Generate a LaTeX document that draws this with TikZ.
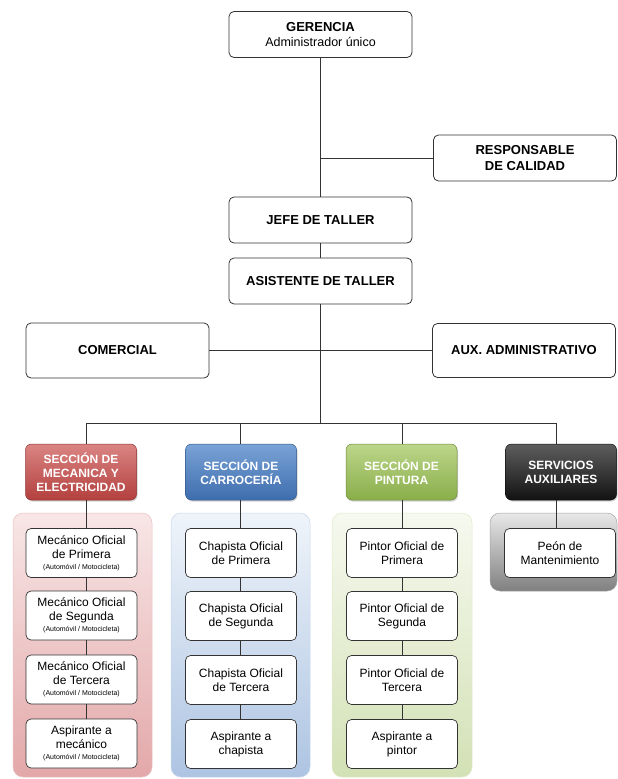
\documentclass[tikz,border=0pt]{standalone}
\usepackage{fontspec}
\setmainfont{Liberation Sans}
\usetikzlibrary{shadows}
\definecolor{lineC}{HTML}{333333}
\definecolor{redT}{HTML}{DA8583}
\definecolor{redB}{HTML}{B3403E}
\definecolor{bluT}{HTML}{7AA3D6}
\definecolor{bluB}{HTML}{3E6DAE}
\definecolor{grnT}{HTML}{BCD68A}
\definecolor{grnB}{HTML}{8AAE4A}
\definecolor{blkT}{HTML}{5E5E5E}
\definecolor{blkB}{HTML}{121212}
\definecolor{credT}{HTML}{F8E6E6}
\definecolor{credB}{HTML}{E3A8A9}
\definecolor{cbluT}{HTML}{EFF4FA}
\definecolor{cbluB}{HTML}{ADC4E2}
\definecolor{cgrnT}{HTML}{F6F9EF}
\definecolor{cgrnB}{HTML}{D3E1B5}
\definecolor{cgryT}{HTML}{E8E8E8}
\definecolor{cgryB}{HTML}{808080}
\begin{document}
\begin{tikzpicture}[x=1pt,y=-1pt,
  topbox/.style={draw=lineC, line width=0.8pt, rounded corners=5pt, fill=white,
    align=center, inner sep=0pt, minimum width=183pt, minimum height=46pt,
    font=\bfseries\fontsize{13}{15.5}\selectfont},
  hdr/.style={draw=#1B!80!black, line width=0.5pt, rounded corners=6pt,
    top color=#1T, bottom color=#1B, minimum width=111pt, minimum height=56pt,
    inner sep=0pt, text=white, align=center,
    font=\bfseries\fontsize{12}{14}\selectfont,
    drop shadow={shadow xshift=1pt, shadow yshift=-1.5pt, opacity=0.35}},
  subbox/.style={draw=lineC, line width=0.7pt, rounded corners=5pt, fill=white,
    minimum width=111pt, minimum height=49pt, inner sep=0pt, align=center,
    font=\fontsize{12}{14}\selectfont},
  cont/.style={draw=#1B!70, line width=0.5pt, rounded corners=10pt,
    top color=#1T, bottom color=#1B},
  conn/.style={draw=lineC, line width=0.8pt}
]
\useasboundingbox (0,0) rectangle (618,779);

% containers
\path[cont=cred] (13,513) rectangle (152,777);
\path[cont=cblu] (171,513) rectangle (310,777);
\path[cont=cgrn] (332,513) rectangle (472,777);
\path[cont=cgry] (490,513) rectangle (617,591);

% top level
\node[topbox] (ger) at (320.5,34.5) {GERENCIA\\[-1pt]{\mdseries\fontsize{12.5}{14}\selectfont Administrador único}};
\node[topbox] (resp) at (525,158) {RESPONSABLE\\DE CALIDAD};
\node[topbox] (jefe) at (320.5,220) {JEFE DE TALLER};
\node[topbox] (asis) at (320.5,281) {ASISTENTE DE TALLER};
\node[topbox, minimum height=55pt] (com) at (117.5,350.5) {COMERCIAL};
\node[topbox, minimum height=54pt] (aux) at (524,350.5) {AUX. ADMINISTRATIVO};

% section headers
\node[hdr=red] (h1) at (81,472) {SECCIÓN DE\\MECANICA Y\\ELECTRICIDAD};
\node[hdr=blu] (h2) at (241,472) {SECCIÓN DE\\CARROCERÍA};
\node[hdr=grn] (h3) at (401.5,472) {SECCIÓN DE\\PINTURA};
\node[hdr=blk] (h4) at (561,472) {SERVICIOS\\AUXILIARES};

% sub boxes
\newcommand{\subnote}[1]{\\[-3pt]{\fontsize{7}{8}\selectfont #1}}
\node[subbox] (m1) at (81.5,553) {Mecánico Oficial\\de Primera\subnote{(Automóvil / Motocicleta)}};
\node[subbox] (m2) at (81.5,615.5) {Mecánico Oficial\\de Segunda\subnote{(Automóvil / Motocicleta)}};
\node[subbox] (m3) at (81.5,679.5) {Mecánico Oficial\\de Tercera\subnote{(Automóvil / Motocicleta)}};
\node[subbox] (m4) at (81.5,743.5) {Aspirante a\\mecánico\subnote{(Automóvil / Motocicleta)}};

\node[subbox] (c1) at (241,553) {Chapista Oficial\\de Primera};
\node[subbox] (c2) at (241,616) {Chapista Oficial\\de Segunda};
\node[subbox] (c3) at (241,680) {Chapista Oficial\\de Tercera};
\node[subbox] (c4) at (241,744) {Aspirante a\\chapista};

\node[subbox] (p1) at (402,553) {Pintor Oficial de\\Primera};
\node[subbox] (p2) at (402,616) {Pintor Oficial de\\Segunda};
\node[subbox] (p3) at (402,680) {Pintor Oficial de\\Tercera};
\node[subbox] (p4) at (402,744) {Aspirante a\\pintor};

\node[subbox] (s1) at (560,553) {Peón de\\Mantenimiento};

% connectors top
\draw[conn] (ger) -- (jefe);
\draw[conn] (resp.west) -- (resp.west -| ger.south);
\draw[conn] (jefe) -- (asis);
\draw[conn] (com.east) -- (aux.west);
\coordinate (b1) at (86,423);
\coordinate (b2) at (240,423);
\coordinate (b3) at (402,423);
\coordinate (b4) at (556,423);
\draw[conn] (asis.south) -- (asis.south |- b1);
\draw[conn] (b1) -- (b4);
\draw[conn] (b1) -- (b1 |- h1.north);
\draw[conn] (b2) -- (b2 |- h2.north);
\draw[conn] (b3) -- (b3 |- h3.north);
\draw[conn] (b4) -- (b4 |- h4.north);

% connectors within sections
\draw[conn] (h1.south -| b1) -- (m1.north -| b1);
\draw[conn] (m1.south -| b1) -- (m2.north -| b1);
\draw[conn] (m2.south -| b1) -- (m3.north -| b1);
\draw[conn] (m3.south -| b1) -- (m4.north -| b1);

\draw[conn] (h2.south -| b2) -- (c1.north -| b2);
\draw[conn] (c1.south -| b2) -- (c2.north -| b2);
\draw[conn] (c2.south -| b2) -- (c3.north -| b2);
\draw[conn] (c3.south -| b2) -- (c4.north -| b2);

\draw[conn] (h3.south -| b3) -- (p1.north -| b3);
\draw[conn] (p1.south -| b3) -- (p2.north -| b3);
\draw[conn] (p2.south -| b3) -- (p3.north -| b3);
\draw[conn] (p3.south -| b3) -- (p4.north -| b3);

\draw[conn] (h4.south -| b4) -- (s1.north -| b4);
\end{tikzpicture}
\end{document}
